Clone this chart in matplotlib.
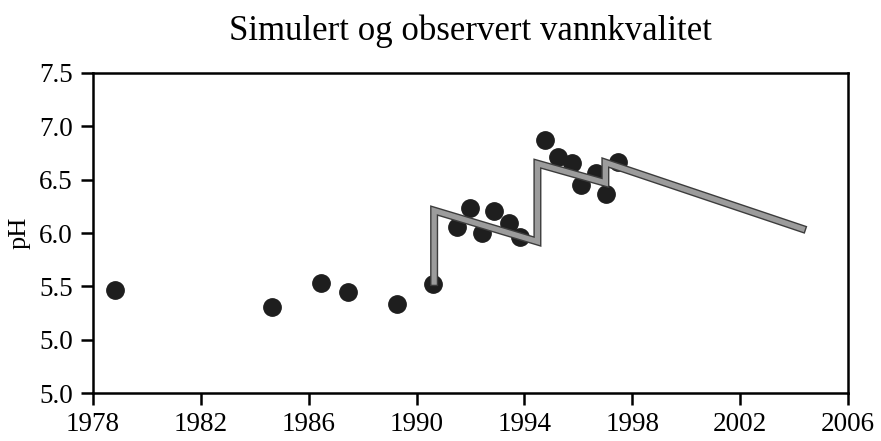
import matplotlib.pyplot as plt
import matplotlib.patheffects as pe

plt.rcParams['font.family'] = ['Liberation Serif', 'DejaVu Serif']

# observed pH
obs_year = [1978.82, 1984.64, 1986.46, 1987.46, 1989.28, 1990.61, 1991.50, 1991.98,
            1992.43, 1992.87, 1993.43, 1993.84, 1994.77, 1995.25, 1995.77, 1996.10,
            1996.66, 1997.03, 1997.47]
obs_ph = [5.47, 5.31, 5.53, 5.45, 5.33, 5.52, 6.06, 6.23,
          6.00, 6.21, 6.09, 5.96, 6.87, 6.71, 6.66, 6.45,
          6.56, 6.37, 6.67]

# simulated pH (liming steps)
sim_year = [1990.65, 1990.65, 1994.48, 1994.48, 1997.0, 1997.0, 2004.3]
sim_ph = [5.54, 6.21, 5.92, 6.65, 6.47, 6.66, 6.04]

x_ticks = [1978, 1982, 1986, 1990, 1994, 1998, 2002, 2006]
y_ticks = [4.5, 5.0, 5.5, 6.0, 6.5, 7.0, 7.5]
y_labels = ['5.0', '5.0', '5.5', '6.0', '6.5', '7.0', '7.5']

fig = plt.figure(figsize=(8.81, 4.41), dpi=100)
ax = fig.add_axes([0.1056, 0.1088, 0.857, 0.7257])

ax.plot(obs_year, obs_ph, 'o', color='#1e1e1e', markersize=12.5, zorder=2)
ax.plot(sim_year, sim_ph, color='#9c9c9c', lw=3.8, solid_joinstyle='miter',
        zorder=3, path_effects=[pe.Stroke(linewidth=5.8, foreground='#3c3c3c'), pe.Normal()])

ax.set_xlim(1978, 2006)
ax.set_ylim(4.5, 7.5)
ax.set_xticks(x_ticks)
ax.set_yticks(y_ticks)
ax.set_yticklabels(y_labels)
ax.tick_params(labelsize=19.5, width=1.8, length=8.5, direction='out')
ax.tick_params(axis='x', pad=5)
ax.tick_params(axis='y', pad=6)
for s in ax.spines.values():
    s.set_linewidth(1.8)

ax.set_ylabel('pH', fontsize=19, labelpad=6)
ax.set_title('Simulert og observert vannkvalitet', fontsize=25, pad=24)

fig.savefig('out.png', dpi=100)
